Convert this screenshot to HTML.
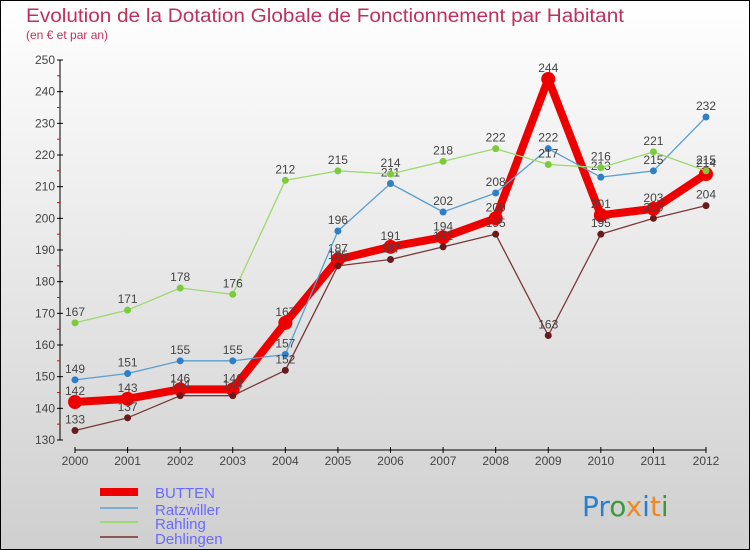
<!DOCTYPE html>
<html><head><meta charset="utf-8"><style>
body{margin:0;width:750px;height:550px;overflow:hidden}
svg{display:block;font-family:"Liberation Sans",sans-serif}
</style></head><body>
<svg id="c" width="750" height="550">
<defs><linearGradient id="bg" x1="0" y1="0" x2="0" y2="1"><stop offset="0" stop-color="#ffffff"/><stop offset="1" stop-color="#cfcfcf"/></linearGradient></defs>
<rect x="0.5" y="0.5" width="749" height="549" fill="url(#bg)" stroke="#000"/>
<text x="26" y="22" font-size="19" textLength="598" lengthAdjust="spacingAndGlyphs" fill="#c0305a">Evolution de la Dotation Globale de Fonctionnement par Habitant</text>
<text x="26" y="39" font-size="12" fill="#c0305a">(en € et par an)</text>
<g id="axes"></g><g id="series"></g>
<g>
<rect x="100" y="488" width="38" height="8" fill="#e00"/>
<text x="155" y="498" font-size="15" fill="#6a6aff">BUTTEN</text>
<line x1="100" y1="508" x2="138" y2="508" stroke="#7aaed0" stroke-width="2"/>
<text x="155" y="515" font-size="15" fill="#6a6aff">Ratzwiller</text>
<line x1="100" y1="522" x2="138" y2="522" stroke="#9ed870" stroke-width="2"/>
<text x="155" y="529" font-size="15" fill="#6a6aff">Rahling</text>
<line x1="100" y1="537" x2="138" y2="537" stroke="#8a5858" stroke-width="2"/>
<text x="155" y="544" font-size="15" fill="#6a6aff">Dehlingen</text>
</g>
<text x="582" y="516" font-size="28" font-family="'DejaVu Sans',sans-serif"><tspan fill="#2a7fd0">Pr</tspan><tspan fill="#3a9a3a">o</tspan><tspan fill="#f08a20">x</tspan><tspan fill="#2a7fd0">i</tspan><tspan fill="#f08a20">t</tspan><tspan fill="#3a9a3a">i</tspan></text>
</svg>
<script>
const years=[2000,2001,2002,2003,2004,2005,2006,2007,2008,2009,2010,2011,2012];
const butten=[142,143,146,146,167,187,191,194,200,244,201,203,214];
const ratzwiller=[149,151,155,155,157,196,211,202,208,222,213,215,232];
const rahling=[167,171,178,176,212,215,214,218,222,217,216,221,215];
const dehlingen=[133,137,144,144,152,185,187,191,195,163,195,200,204];
const yTicks=[130,140,150,160,170,180,190,200,210,220,230,240,250];
const NS='http://www.w3.org/2000/svg';
const xs=i=>75+i*(706-75)/(years.length-1);
const ys=v=>440-(v-130)*(380/120);
function mk(t,a,p){const e=document.createElementNS(NS,t);for(const k in a)e.setAttribute(k,a[k]);p.appendChild(e);return e;}
const ax=document.getElementById('axes');
const yl=mk('line',{x1:60,y1:ys(250),x2:60,y2:ys(130),stroke:'#000'},ax);


const xl=mk('line',{x1:75,y1:450,x2:706,y2:450,stroke:'#000'},ax);


yTicks.forEach(v=>{
  mk('line',{x1:57,y1:ys(v),x2:63,y2:ys(v),stroke:'#000'},ax);
  if(v<250)mk('line',{x1:57,y1:ys(v+5),x2:60,y2:ys(v+5),stroke:'#f00'},ax);
  const t=mk('text',{x:55,y:ys(v)+4,'font-size':12,fill:'#444','text-anchor':'end'},ax);
  t.textContent=v;
  
  
});
years.forEach((y,i)=>{
  mk('line',{x1:xs(i),y1:447,x2:xs(i),y2:453,stroke:'#000'},ax);
  const t=mk('text',{x:xs(i),y:465,'font-size':12,fill:'#444','text-anchor':'middle'},ax);
  t.textContent=y;
  
  
});
const sg=document.getElementById('series');
function draw(name,data,color,dot,w,r){
  const g=mk('g',{},sg);
  
  
  const pl=mk('polyline',{points:data.map((v,i)=>xs(i)+','+ys(v)).join(' '),fill:'none',stroke:color,'stroke-width':w,'stroke-linejoin':'round'},g);
  
  
  data.forEach((v,i)=>{
    const c=mk('circle',{cx:xs(i),cy:ys(v),r:r,fill:dot},g);
    
    
    const t=mk('text',{x:xs(i),y:ys(v)-7,'font-size':12,fill:'#444','text-anchor':'middle'},g);
    t.textContent=v;
    
    
  });
}
draw('butten',butten,'#e00','#e00',8,7);
draw('ratzwiller',ratzwiller,'#5a9fd0','#2f7fc8',1.3,3.5);
draw('rahling',rahling,'#9ed870','#7acc3a',1.3,3.5);
draw('dehlingen',dehlingen,'#7a3838','#6a1a1a',1.3,3.5);
</script>
</body></html>
